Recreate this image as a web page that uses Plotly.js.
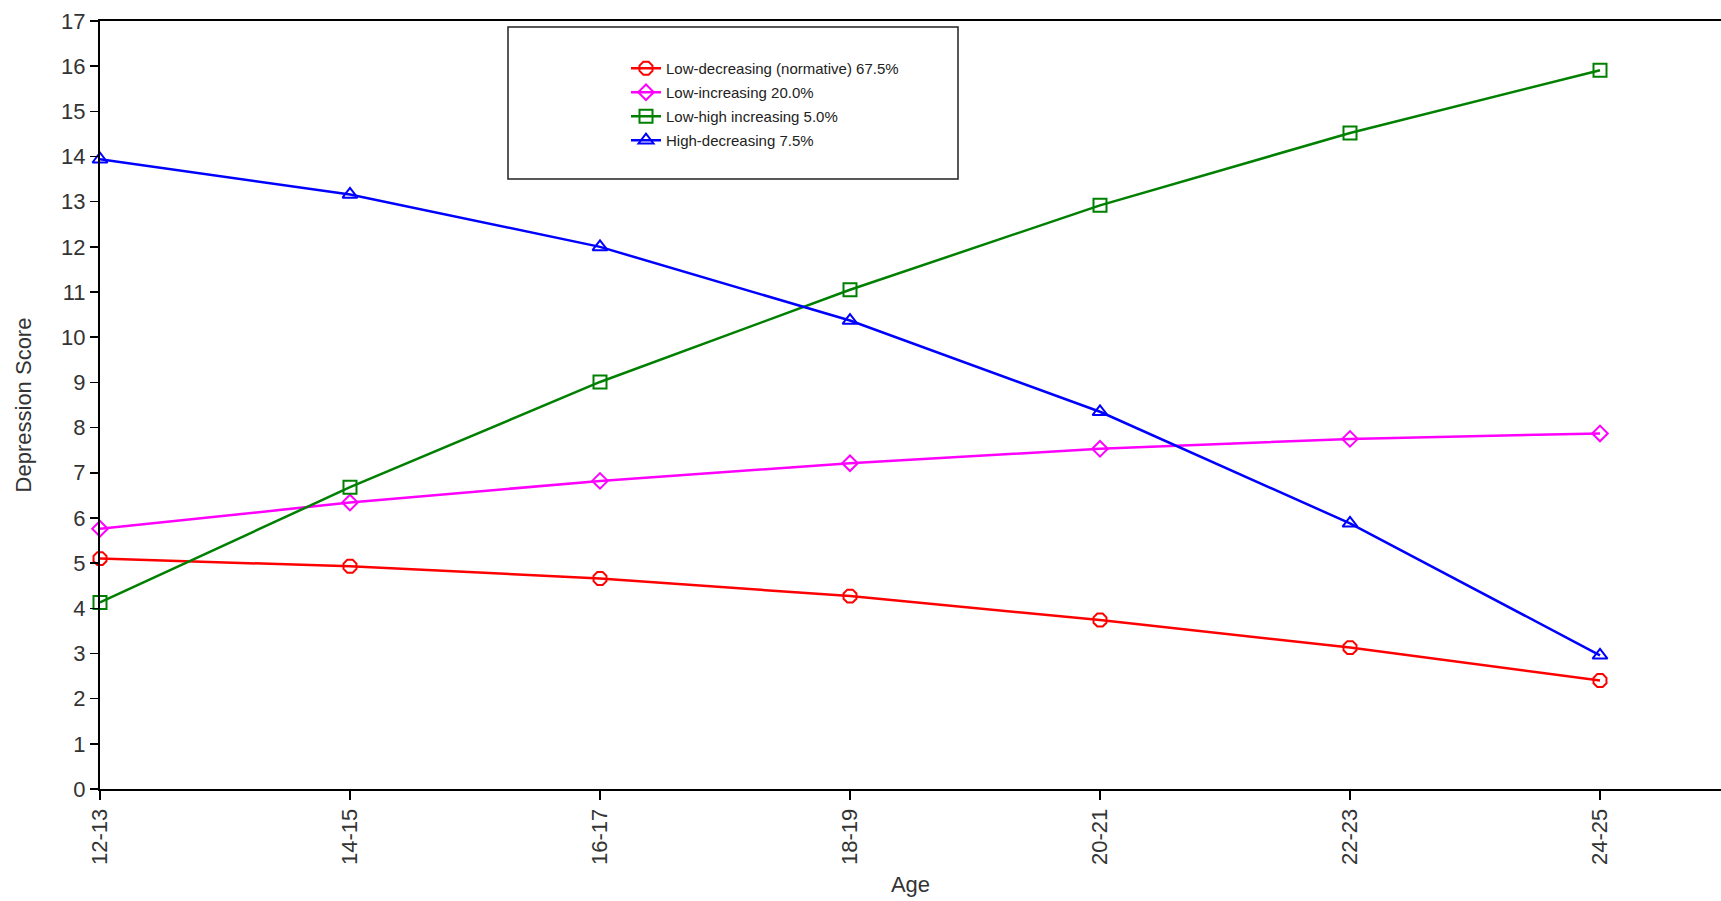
<!DOCTYPE html>
<html>
<head>
<meta charset="utf-8">
<script src="https://cdn.plot.ly/plotly-3.0.1.min.js"></script>
<style>html,body{margin:0;padding:0;background:#fff;}#chart{width:1721px;height:901px;}</style>
</head>
<body>
<div id="chart"></div>
<script>
const ages = ["12-13","14-15","16-17","18-19","20-21","22-23","24-25"];
const lowDecreasing = [5.10, 4.93, 4.66, 4.27, 3.74, 3.13, 2.40];
const lowIncreasing = [5.76, 6.34, 6.82, 7.21, 7.53, 7.75, 7.87];
const lowHighIncreasing = [4.13, 6.68, 9.01, 11.05, 12.92, 14.52, 15.91];
const highDecreasing = [13.94, 13.16, 12.00, 10.37, 8.35, 5.88, 2.96];
const seriesNames = ["Low-decreasing (normative) 67.5%","Low-increasing 20.0%","Low-high increasing 5.0%","High-decreasing 7.5%"];
const yTicks = [0,1,2,3,4,5,6,7,8,9,10,11,12,13,14,15,16,17];

const styles = [
  {color:"#FF0000", symbol:"octagon-open", size:14},
  {color:"#FF00FF", symbol:"diamond-open", size:12},
  {color:"#008000", symbol:"square-open", size:13},
  {color:"#0000FF", symbol:"triangle-up-open", size:13}
];
const values = [lowDecreasing, lowIncreasing, lowHighIncreasing, highDecreasing];

const traces = values.map((v,i)=>({
  x: ages, y: v, name: seriesNames[i], type:"scatter", mode:"lines+markers",
  legendgroup:"g"+i,
  cliponaxis:false,
  line:{color:styles[i].color, width:2.5},
  marker:{symbol:styles[i].symbol, size:styles[i].size, color:styles[i].color, line:{color:styles[i].color, width:2}}
}));

const W=1721, H=901, L=100, R=0, T=21, B=112;
const pw = W-L-R, ph = H-T-B;
const px = v => (v-L)/pw;
const py = v => (H-B-v)/ph;

const layout = {
  width:W, height:H,
  margin:{l:L, r:R, t:T, b:B, pad:0},
  paper_bgcolor:"#fff", plot_bgcolor:"#fff",
  font:{family:"Liberation Sans, Arial, sans-serif", color:"#333", size:22},
  showlegend:true,
  legend:{
    x:px(626), y:py(52), xanchor:"left", yanchor:"top",
    bgcolor:"rgba(0,0,0,0)", borderwidth:0,
    font:{size:15, color:"#222"}, tracegroupgap:1.5
  },
  shapes:[{type:"rect", xref:"paper", yref:"paper", x0:px(508), x1:px(958), y0:py(179), y1:py(27), line:{color:"#222", width:1.5}, fillcolor:"rgba(0,0,0,0)"}],
  xaxis:{
    type:"category", range:[0, 6.484], showgrid:false, zeroline:false,
    showline:true, linecolor:"#000", linewidth:2, mirror:true,
    ticks:"outside", ticklen:9, tickwidth:1.5, tickcolor:"#000",
    tickangle:-90, tickfont:{size:22, color:"#333"},
    title:{text:"Age", font:{size:22, color:"#333"}, standoff:13}
  },
  yaxis:{
    range:[0,17], tickvals:yTicks, showgrid:false, zeroline:false,
    showline:true, linecolor:"#000", linewidth:2,
    ticks:"outside", ticklen:8, tickwidth:1.5, tickcolor:"#000",
    tickfont:{size:22, color:"#333"},
    title:{text:"Depression Score", font:{size:22, color:"#333"}, standoff:23}
  }
};
Plotly.newPlot("chart", traces, layout, {displayModeBar:false, staticPlot:true});
</script>
</body>
</html>
